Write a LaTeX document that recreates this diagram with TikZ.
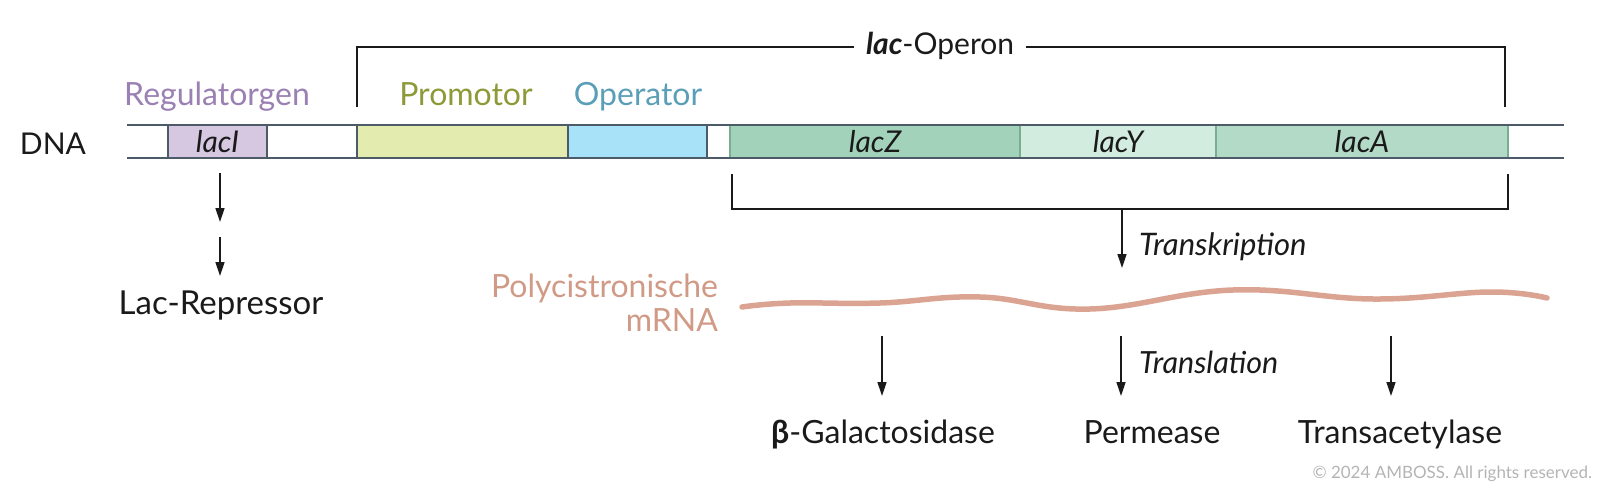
\documentclass[tikz,border=0pt]{standalone}
\usepackage{fontspec}
\setmainfont{Lato}
\usetikzlibrary{arrows.meta}
\definecolor{txt}{HTML}{1A1A1A}
\definecolor{dnaline}{HTML}{4D5B68}
\definecolor{regfill}{HTML}{D5C8E0}
\definecolor{regtxt}{HTML}{9A80B3}
\definecolor{profill}{HTML}{E4EBAE}
\definecolor{protxt}{HTML}{8E9A38}
\definecolor{opfill}{HTML}{A8E2F8}
\definecolor{optxt}{HTML}{5B9EB8}
\definecolor{zfill}{HTML}{A2D2BA}
\definecolor{yfill}{HTML}{D3ECE0}
\definecolor{afill}{HTML}{B3DAC7}
\definecolor{greenline}{HTML}{7AAE92}
\definecolor{mrna}{HTML}{DBA492}
\definecolor{mrnatxt}{HTML}{D09A86}
\definecolor{copy}{HTML}{B4B4B4}
\begin{document}
\begin{tikzpicture}[x=1pt,y=-1pt,
  every node/.style={inner sep=0pt,outer sep=0pt,text=txt,font=\fontsize{30}{33}\selectfont},
  big/.style={font=\fontsize{32}{34}\selectfont},
  genebox/.style={draw=dnaline,line width=1.2pt,minimum height=33pt,anchor=north west,font=\fontsize{30}{33}\selectfont\itshape},
  greenbox/.style={genebox,draw=greenline},
  lbl/.style={anchor=base},
  arr/.style={line width=1.4pt,txt,-{Triangle[length=14pt,width=9pt]}},
  brk/.style={line width=1.4pt,txt}]
\useasboundingbox (0,0) rectangle (1600,484);
% gene boxes
\node[genebox,fill=regfill,minimum width=99pt] (lacI) at (168,125) {lacI};
\node[genebox,fill=profill,minimum width=211pt] (prom) at (357,125) {};
\node[genebox,fill=opfill,minimum width=139pt] (oper) at (568,125) {};
\node[greenbox,fill=zfill,minimum width=290pt] (lacZ) at (730,125) {lacZ};
\node[greenbox,fill=yfill,minimum width=196pt] (lacY) at (1020,125) {lacY};
\node[greenbox,fill=afill,minimum width=292pt] (lacA) at (1216,125) {lacA};
% DNA strands
\coordinate (dnaTL) at (127,125);
\coordinate (dnaTR) at (1564,125);
\coordinate (dnaBL) at (127,158);
\coordinate (dnaBR) at (1564,158);
\draw[dnaline,line width=1.6pt] (dnaTL) -- (dnaTR);
\draw[dnaline,line width=1.6pt] (dnaBL) -- (dnaBR);
% labels
\node[lbl] (dna) at (53,154) {DNA};
\node[lbl,big,text=regtxt] (reglbl) at (217,106) {Regulatorgen};
\node[lbl,big,text=protxt] (prolbl) at (466,106) {Promotor};
\node[lbl,big,text=optxt] (oplbl) at (638,106) {Operator};
% lac-Operon bracket
\node[lbl,inner xsep=12pt] (operon) at (940,55) {\textbf{\textit{lac}}-Operon};
\coordinate (opL) at (357,107);
\coordinate (opR) at (1505,107);
\coordinate (opY) at (0,47);
\draw[brk] (opL) |- (operon.west |- opY);
\draw[brk] (opR) |- (operon.east |- opY);
% lower bracket + transcription
\coordinate (brL) at (732,174);
\coordinate (brR) at (1508,174);
\coordinate (brM) at (1122,209);
\coordinate (tkEnd) at (1122,268);
\draw[brk] (brL) |- (brM) -| (brR);
\draw[arr] (brM) -- (tkEnd);
\node[anchor=base west,font=\fontsize{31}{33}\selectfont\itshape] (tk) at (1139,255) {Transkription};
% repressor
\coordinate (r1a) at (220,173);
\coordinate (r1b) at (220,222);
\coordinate (r2a) at (220,237);
\coordinate (r2b) at (220,276);
\draw[arr] (r1a) -- (r1b);
\draw[arr] (r2a) -- (r2b);
\node[lbl,font=\fontsize{33}{35}\selectfont] (rep) at (221,314) {Lac-Repressor};
% mRNA
\node[anchor=base east,align=right,big,text=mrnatxt] (mrnalbl) at (718,331) {Polycistronische\\mRNA};
\draw[mrna,line width=5.5pt,line cap=round] plot[smooth,tension=0.7] coordinates {
 (742,307) (790,303) (880,303) (980,297) (1090,309) (1233,290) (1373,299) (1490,292) (1547,298)};
% translation
\coordinate (t1a) at (882,336); \coordinate (t1b) at (882,396);
\coordinate (t2a) at (1121,336); \coordinate (t2b) at (1121,396);
\coordinate (t3a) at (1391,336); \coordinate (t3b) at (1391,396);
\draw[arr] (t1a) -- (t1b);
\draw[arr] (t2a) -- (t2b);
\draw[arr] (t3a) -- (t3b);
\node[anchor=base west,font=\fontsize{30.5}{33}\selectfont\itshape] (tl) at (1139,373) {Translation};
\node[lbl,big] (gal) at (883,443) {\textbf{β}-Galactosidase};
\node[lbl,big] (perm) at (1152,443) {Permease};
\node[lbl,big] (trans) at (1400,443) {Transacetylase};
\node[anchor=base east,text=copy,font=\fontsize{17}{20}\selectfont] (copyr) at (1592,478) {© 2024 AMBOSS. All rights reserved.};
\end{tikzpicture}
\end{document}
